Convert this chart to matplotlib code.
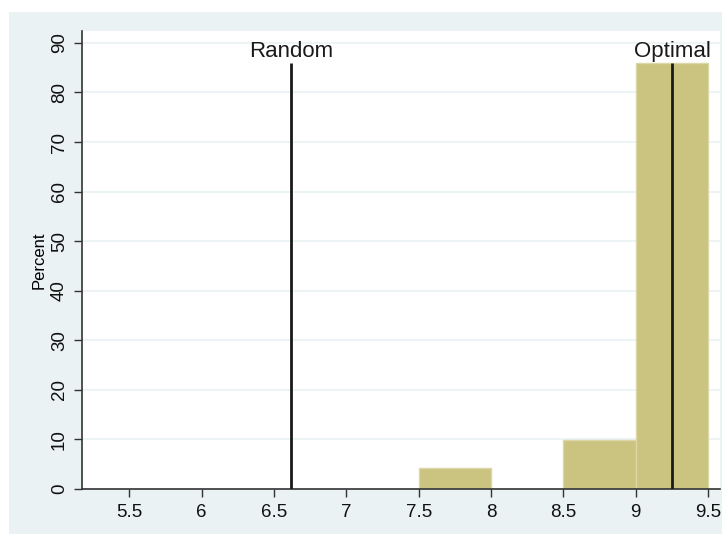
import matplotlib
matplotlib.use("Agg")
import matplotlib.pyplot as plt

bin_lefts = [7.5, 8.5, 9.0]
bin_width = 0.5
percents = [4.2, 9.8, 86.0]
ref_lines = [6.621, 9.253]
ref_labels = ["Random", "Optimal"]
xticks = [5.5, 6, 6.5, 7, 7.5, 8, 8.5, 9, 9.5]
xtick_labels = ["5.5", "6", "6.5", "7", "7.5", "8", "8.5", "9", "9.5"]
yticks = [0, 10, 20, 30, 40, 50, 60, 70, 80, 90]

plt.rcParams['font.family'] = ['Liberation Sans', 'DejaVu Sans']

W, H = 726, 534
fig = plt.figure(figsize=(W/100, H/100), dpi=100)
fig.patch.set_facecolor('white')
bg = '#EAF2F3'
fig.patches.append(plt.Rectangle((9/W, 0), (722-9)/W, (534-12)/H, transform=fig.transFigure,
                                 facecolor=bg, edgecolor='none', zorder=-10))

ax = fig.add_axes([82/W, 1-489/H, (720-82)/W, (489-31)/H])
ax.set_facecolor('white')
ax.set_xlim(5.173, 9.583)
ax.set_ylim(0, 92.4)

ax.bar(bin_lefts, percents, width=bin_width, align='edge', color='#CBC380',
       edgecolor='#DCD7A6', linewidth=1, zorder=2)

ymax = max(percents)
for xv, lab in zip(ref_lines, ref_labels):
    ax.plot([xv, xv], [0, ymax], color='#1a1a1a', lw=2, zorder=3, solid_capstyle='butt')
    ax.text(xv, ymax + 0.2, lab, ha='center', va='bottom', fontsize=16, color='#1a1a1a')

ax.set_xticks(xticks)
ax.set_xticklabels(xtick_labels, fontsize=13.5)
ax.set_yticks(yticks)
ax.set_yticklabels([str(v) for v in yticks], fontsize=13.5, rotation=90, va='center')
ax.yaxis.grid(True, color=bg, lw=1.2, zorder=0)
ax.set_axisbelow(True)
ax.set_ylabel('Percent', fontsize=12, labelpad=3)

for s in ['top', 'right']:
    ax.spines[s].set_visible(False)
for s in ['left', 'bottom']:
    ax.spines[s].set_color('#333333')
    ax.spines[s].set_linewidth(1.2)
ax.tick_params(axis='both', direction='out', length=6, width=1, color='#333333', labelcolor='#111111')
ax.tick_params(axis='x', pad=5)
ax.tick_params(axis='y', pad=4)

fig.savefig('out.png', dpi=100)
